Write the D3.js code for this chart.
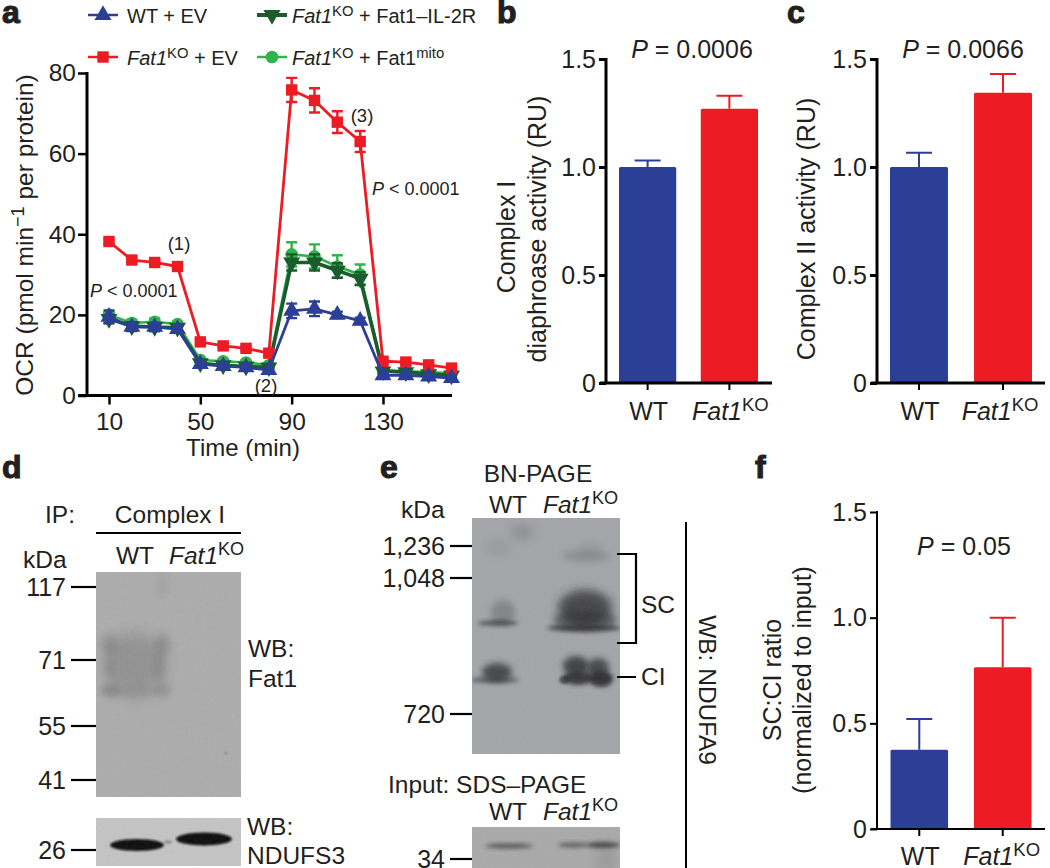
<!DOCTYPE html>
<html><head><meta charset="utf-8">
<script src="https://cdn.jsdelivr.net/npm/d3@7"></script>
<style>
html,body{margin:0;padding:0;background:#fff}
svg{display:block}
text{font-family:"Liberation Sans",Arial,sans-serif;fill:#231f20}
.domain{display:none}
</style></head><body>
<svg id="fig" width="1050" height="868"></svg>
<script>
// ---------- DATA ----------
const timePoints = [10,20,30,40,50,60,70,80,90,100,110,120,130,140,150,160];
const timeTicks = [10,50,90,130];
const ocrTicks = [0,20,40,60,80];
const wtEv      = [19.5,17,17,16.5,7.8,7.3,7,6.3,21,21.5,20,18.5,5,5,4.7,4.3];
const wtEvErr   = [1.6,1,1,0.8,0.6,0.5,0.5,0.5,1.8,1.8,0.8,0.8,0.5,0.5,0.5,0.5];
const koEv      = [38.2,33.6,33,32,13.3,12.3,11.7,10.5,75.8,73.2,67.8,63,8.5,8.3,7.6,6.8];
const koEvErr   = [0.5,0.5,0.5,0.5,0.5,0.5,0.5,0.5,3,3,2.7,2.6,0.5,0.5,0.5,0.5];
const koIl2r    = [19,17.2,17,16.8,8,7.5,7.2,7,33,33,31,29,6,5.8,5.3,5];
const koIl2rErr = [1,1,1,0.8,0.5,0.5,0.5,0.5,2,2,1.8,1.6,0.5,0.5,0.5,0.5];
const koMito    = [20,18,18.3,17.7,8.8,8.5,8.2,7.5,35,34.5,32,30,6.3,6,5.8,5.5];
const koMitoErr = [0.8,0.8,0.8,0.6,0.5,0.5,0.5,0.5,3,3,2.8,2.5,0.5,0.5,0.5,0.5];
const barTicks = [0,0.5,1.0,1.5];
const barCats = ["WT","KO"];
const complexI = [1.0,1.27];    const complexIErr = [0.03,0.06];
const complexII = [1.0,1.344];  const complexIIErr = [0.066,0.086];
const scCiRatio = [0.375,0.765]; const scCiErr = [0.145,0.235];
const kdaD = ["117","71","55","41","26"];
const kdaE = ["1,236","1,048","720","34"];

// ---------- STYLE ----------
const BLUE="#2b3f96", RED="#ed1c24", GREEN="#2fb34a", DARK="#1a5c2e", INK="#231f20", BLACK="#000";
const svg = d3.select("#fig");
const defs = svg.append("defs");
[1,2,3,5,8].forEach(s=>defs.append("filter").attr("id","b"+s)
  .attr("x","-60%").attr("y","-60%").attr("width","220%").attr("height","220%")
  .append("feGaussianBlur").attr("stdDeviation",s));
const nf = defs.append("filter").attr("id","noise").attr("x",0).attr("y",0).attr("width","100%").attr("height","100%");
nf.append("feTurbulence").attr("type","fractalNoise").attr("baseFrequency",0.35).attr("numOctaves",3).attr("seed",4);
nf.append("feColorMatrix").attr("type","saturate").attr("values",0);

function rich(g,x,y,parts,o={}){
  const size=o.size||25;
  const t=g.append("text").attr("font-size",size).attr("text-anchor",o.anchor||"start");
  if(o.rotate!==undefined) t.attr("transform",`translate(${x},${y}) rotate(${o.rotate})`);
  else t.attr("x",x).attr("y",y);
  let shift=0;
  parts.forEach(p=>{
    const s=t.append("tspan").text(p.t);
    if(p.i) s.attr("font-style","italic");
    const want=p.sup?-size*0.36:0;
    if(want!==shift){s.attr("dy",want-shift);shift=want;}
    if(p.sup) s.attr("font-size",size*0.74);
  });
  return t;
}
const KO=[{t:"Fat1",i:1},{t:"KO",sup:1}];
const letter=(x,y,s)=>svg.append("text").attr("x",x).attr("y",y).attr("font-size",32).attr("font-weight",700)
  .attr("stroke",INK).attr("stroke-width",1.1).text(s);
const fmtBar=d=>d===0?"0":d3.format(".1f")(d);

// ---------- PANEL A ----------
const a=svg.append("g");
const xA=d3.scaleLinear().domain([10,160]).range([109,451.5]);
const yA=d3.scaleLinear().domain([0,80]).range([395.5,73]);
const axisStyle=(g,w,size)=>{
  g.selectAll("line").attr("stroke",BLACK).attr("stroke-width",w);
  g.selectAll("text").attr("font-size",size).attr("fill",INK);
};
a.append("g").attr("transform","translate(87,0)")
 .call(d3.axisLeft(yA).tickValues(ocrTicks).tickSize(9).tickPadding(2))
 .call(axisStyle,2.5,24.5);
a.append("g").attr("transform","translate(0,395.5)")
 .call(d3.axisBottom(xA).tickValues(timeTicks).tickSize(9).tickPadding(8))
 .call(axisStyle,2.5,24.5);
a.append("line").attr("x1",87).attr("x2",87).attr("y1",yA(80)-1).attr("y2",yA(0)+1).attr("stroke",BLACK).attr("stroke-width",3);
a.append("line").attr("x1",78).attr("x2",452).attr("y1",yA(0)).attr("y2",yA(0)).attr("stroke",BLACK).attr("stroke-width",3);

const sym=(type,size)=>d3.symbol().type(type).size(size)();
const triUp=sym(d3.symbolTriangle,125);
const square=sym(d3.symbolSquare,130);
const circle=sym(d3.symbolCircle,125);
const seriesA=[
  {name:"mito",v:koMito,e:koMitoErr,c:GREEN,path:circle,w:2.6},
  {name:"il2r",v:koIl2r,e:koIl2rErr,c:DARK,path:triUp,flip:1,w:3.6},
  {name:"ko",v:koEv,e:koEvErr,c:RED,path:square,w:2.8},
  {name:"wt",v:wtEv,e:wtEvErr,c:BLUE,path:triUp,w:2.8},
];
const lineA=d3.line().x((d,i)=>xA(timePoints[i])).y(d=>yA(d));
seriesA.forEach(s=>{
  const g=a.append("g");
  g.append("path").attr("d",lineA(s.v)).attr("fill","none").attr("stroke",s.c).attr("stroke-width",s.w).attr("stroke-linejoin","round");
  const pts=g.selectAll("g").data(s.v).join("g").attr("transform",(d,i)=>`translate(${xA(timePoints[i])},${yA(d)})`);
  pts.append("path").attr("d",(d,i)=>{
    const h=yA(0)-yA(s.e[i]);
    return `M-5.5,${-h}H5.5M0,${-h}V${h}M-5.5,${h}H5.5`;
  }).attr("stroke",s.c).attr("stroke-width",2.4).attr("fill","none");
  pts.append("path").attr("d",s.path).attr("fill",s.c).attr("transform",s.flip?"rotate(180)":null);
});
// legend
const legend=[
  {lx:88,ly:15,c:BLUE,path:triUp,parts:[{t:"WT + EV"}],tx:127},
  {lx:257,ly:15,c:DARK,path:triUp,flip:1,parts:[...KO,{t:" + Fat1–IL-2R"}],tx:292,w:4},
  {lx:88,ly:57,c:RED,path:square,parts:[...KO,{t:" + EV"}],tx:127},
  {lx:257,ly:57,c:GREEN,path:circle,parts:[...KO,{t:" + Fat1"},{t:"mito",sup:1}],tx:292},
];
legend.forEach(l=>{
  a.append("line").attr("x1",l.lx).attr("x2",l.lx+30).attr("y1",l.ly).attr("y2",l.ly).attr("stroke",l.c).attr("stroke-width",l.w||2.5);
  a.append("path").attr("d",l.path).attr("fill",l.c).attr("transform",`translate(${l.lx+15},${l.ly})${l.flip?" rotate(180)":""}`);
  rich(a,l.tx,l.ly+8,l.parts,{size:20});
});
const Pl=(x,y,s)=>rich(a,x,y,[{t:"P",i:1},{t:s}],{size:18});
Pl(372,195," < 0.0001"); Pl(90,297," < 0.0001");
[["(1)",179,250],["(2)",266,392],["(3)",362,122]].forEach(d=>
  a.append("text").attr("x",d[1]).attr("y",d[2]).attr("font-size",18.5).attr("text-anchor","middle").text(d[0]));
rich(a,33,235,[{t:"OCR (pmol min"},{t:"−1",sup:1},{t:" per protein)"}],{size:24.5,rotate:-90,anchor:"middle"});
a.append("text").attr("x",243).attr("y",456).attr("font-size",24).attr("text-anchor","middle").text("Time (min)");
letter(2,23,"a");

// ---------- BAR PANELS ----------
function barPanel(o){
  const g=svg.append("g");
  const y=d3.scaleLinear().domain([0,1.5]).range([o.y0,o.y1]);
  const x=d3.scaleBand().domain(barCats).range(o.xr).paddingInner(o.pi).paddingOuter(0);
  g.append("g").attr("transform",`translate(${o.ax},0)`)
   .call(d3.axisLeft(y).tickValues(barTicks).tickFormat(fmtBar).tickSize(7).tickPadding(3))
   .call(axisStyle,o.lw,25);
  g.selectAll(".bar").data(o.v).join("rect").attr("x",(d,i)=>x(barCats[i])).attr("width",x.bandwidth())
   .attr("y",d=>y(d)).attr("height",d=>y(0)-y(d)).attr("rx",1.5)
   .attr("fill",(d,i)=>i?RED:BLUE);
  g.selectAll(".err").data(o.v).join("path").attr("d",(d,i)=>{
    const cx=x(barCats[i])+x.bandwidth()/2,top=y(d+o.e[i]);
    return `M${cx},${y(d)}V${top}M${cx-13},${top}H${cx+13}`;
  }).attr("stroke",(d,i)=>i?RED:BLUE).attr("stroke-width",2).attr("fill","none");
  g.append("line").attr("x1",o.ax).attr("x2",o.ax).attr("y1",o.y1-1).attr("y2",o.y0+1).attr("stroke",BLACK).attr("stroke-width",o.lw);
  g.append("line").attr("x1",o.ax-6).attr("x2",o.xEnd).attr("y1",o.y0).attr("y2",o.y0).attr("stroke",BLACK).attr("stroke-width",o.lw);
  barCats.forEach(c=>{
    const cx=x(c)+x.bandwidth()/2;
    g.append("line").attr("x1",cx).attr("x2",cx).attr("y1",o.y0).attr("y2",o.y0+7).attr("stroke",BLACK).attr("stroke-width",2);
  });
  g.append("text").attr("x",x("WT")+x.bandwidth()/2+1).attr("y",o.labY).attr("font-size",25).attr("text-anchor","middle").text("WT");
  rich(g,x("KO")+x.bandwidth()/2+1+(o.koDx||0),o.labY,KO,{size:25,anchor:"middle"});
  rich(g,o.pX,o.pY,[{t:"P",i:1},{t:o.p}],{size:25,anchor:"middle"});
  o.ylab.forEach(l=>rich(g,l[0],l[1],[{t:l[2]}],{size:25,rotate:-90,anchor:"middle"}));
  return g;
}
barPanel({y0:383,y1:59,ax:606,xr:[619,758],pi:0.3,lw:3,xEnd:772,v:complexI,e:complexIErr,labY:420,pX:692,pY:58,p:" = 0.0006",
  ylab:[[515,237,"Complex I"],[546,229,"diaphroase activity (RU)"]]});
barPanel({y0:383,y1:59,ax:877,xr:[890,1032],pi:0.31,lw:3,xEnd:1045,v:complexII,e:complexIIErr,labY:420,pX:963,pY:58,p:" = 0.0066",koDx:-4,
  ylab:[[815,229,"Complex II activity (RU)"]]});
barPanel({y0:829,y1:512,ax:877,xr:[890.5,1031.5],pi:0.31,lw:2,xEnd:1045,v:scCiRatio,e:scCiErr,labY:865,pX:964,pY:555,p:" = 0.05",koDx:-2,
  ylab:[[781,680,"SC:CI ratio"],[811,680,"(normalized to input)"]]});
letter(497,23,"b"); letter(787,23,"c"); letter(2,478,"d"); letter(380,478,"e"); letter(755,478,"f");

// ---------- BLOTS ----------
function blot(x,y,w,h,bg,blobs,noise){
  const id="clip"+Math.round(x)+"_"+Math.round(y);
  defs.append("clipPath").attr("id",id).append("rect").attr("x",x).attr("y",y).attr("width",w).attr("height",h);
  const g=svg.append("g").attr("clip-path",`url(#${id})`);
  g.append("rect").attr("x",x).attr("y",y).attr("width",w).attr("height",h).attr("fill",bg);
  blobs.forEach(b=>g.append("ellipse").attr("cx",b[0]).attr("cy",b[1]).attr("rx",b[2]).attr("ry",b[3])
    .attr("fill",b[6]||"#2a2a2e").attr("opacity",b[4]).attr("filter",`url(#b${b[5]})`));
  g.append("rect").attr("x",x).attr("y",y).attr("width",w).attr("height",h).attr("filter","url(#noise)").attr("opacity",noise||0.07);
}
blot(96,572,145,225,"#acacac",[
  [135,665,30,32,.2,8],[110,645,8,11,.2,5],[162,645,7,11,.22,5],[110,690,10,7,.16,3],[163,690,8,7,.16,3],[110,668,6,10,.1,3],[160,668,6,14,.1,3],
  [130,692,30,6,.07,3],[163,585,6,14,.06,3],[226,753,1,1,.6,1]
]);
blot(96,818,145,48,"#c4c4c4",[
  [137,845,27,6,1,1,"#0b0b0b"],[204,839,28,6.5,1,1,"#0b0b0b"],[168,842,4,1.5,.4,1]
]);
blot(472,518,148,236,"#a3a5a9",[
  [522,532,12,8,.16,5],[498,548,12,9,.08,5],[586,556,24,6,.18,3],[590,548,12,8,.06,3],
  [503,612,12,12,.26,3],[498,623,20,3,.65,2],
  [585,608,27,18,.75,5],[584,628,37,3.5,.8,2],[585,620,32,9,.55,3],
  [497,672,15,9,.75,3],[495,680,24,3,.6,2],
  [576,666,13,10,.8,3],[598,668,11,10,.75,3],[601,679,12,8,.9,2],[578,678,15,7,.85,2],[564,680,5,4,.6,1]
],.05);
blot(472,827,148,41,"#a9a9a9",[
  [509,846,24,2.6,.65,2],[573,845,15,2.4,.6,2],[603,845,17,3.2,.75,2],[606,860,12,12,.1,5]
]);

function kdaTicks(labels,ys,x1,x2,lx,w){
  const yS=d3.scaleOrdinal().domain(labels).range(ys);
  const g=svg.append("g");
  labels.forEach(l=>{
    g.append("line").attr("x1",x1).attr("x2",x2).attr("y1",yS(l)).attr("y2",yS(l)).attr("stroke",BLACK).attr("stroke-width",w);
    g.append("text").attr("x",lx).attr("y",yS(l)+9).attr("font-size",25).attr("text-anchor","end").text(l);
  });
}
const T=(x,y,s,anchor)=>svg.append("text").attr("x",x).attr("y",y).attr("font-size",24.5).attr("text-anchor",anchor||"start").text(s);
// d
T(45,523,"IP:"); T(170,523,"Complex I","middle"); T(23,568,"kDa"); T(135,564,"WT","middle");
rich(svg,169,564,KO,{size:24.5});
svg.append("line").attr("x1",96).attr("x2",241).attr("y1",533).attr("y2",533).attr("stroke",BLACK).attr("stroke-width",2.2);
kdaTicks(kdaD,[587,660,726,780,850],71,96,66,2.2);
T(248,657,"WB:"); T(248,687,"Fat1"); T(247,835,"WB:"); T(247,864,"NDUFS3");
// e
T(538,482,"BN-PAGE","middle"); T(401,518,"kDa"); T(508,513,"WT","middle"); rich(svg,543,513,KO,{size:24.5});
T(388,793,"Input: SDS–PAGE"); T(508,820,"WT","middle"); rich(svg,543,820,KO,{size:24.5});
kdaTicks(kdaE,[546,578,714,859],450,472,445,2.2);
svg.append("path").attr("d","M617,554H636V643H617M617,677H636").attr("fill","none").attr("stroke",BLACK).attr("stroke-width",2.2);
T(641,613,"SC"); T(641,685,"CI");
svg.append("line").attr("x1",686).attr("x2",686).attr("y1",522).attr("y2",868).attr("stroke",BLACK).attr("stroke-width",2);
svg.append("text").attr("transform","translate(699,690) rotate(90)").attr("font-size",24.5).attr("text-anchor","middle").text("WB: NDUFA9");
</script>
</body></html>
